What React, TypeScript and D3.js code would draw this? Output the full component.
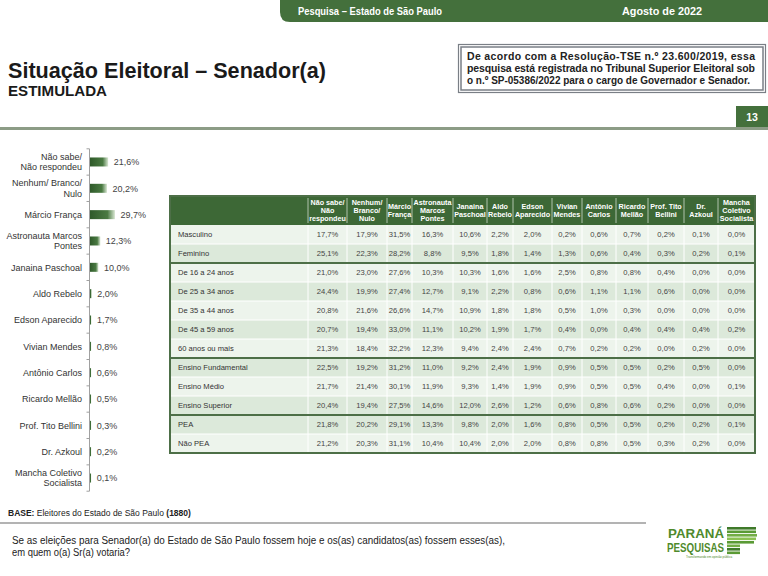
import React from "react";
import * as d3 from "d3";

// ---------- DATA ----------
const candidates = [
  "Não sabe/\nNão respondeu",
  "Nenhum/ Branco/\nNulo",
  "Márcio França",
  "Astronauta Marcos\nPontes",
  "Janaina Paschoal",
  "Aldo Rebelo",
  "Edson Aparecido",
  "Vivian Mendes",
  "Antônio Carlos",
  "Ricardo Mellão",
  "Prof. Tito Bellini",
  "Dr. Azkoul",
  "Mancha Coletivo\nSocialista",
];
const totals = [21.6, 20.2, 29.7, 12.3, 10.0, 2.0, 1.7, 0.8, 0.6, 0.5, 0.3, 0.2, 0.1];

const columnHeaders = [
  ["Não sabe/", "Não", "respondeu"],
  ["Nenhum/", "Branco/", "Nulo"],
  ["Márcio", "França"],
  ["Astronauta", "Marcos", "Pontes"],
  ["Janaina", "Paschoal"],
  ["Aldo", "Rebelo"],
  ["Edson", "Aparecido"],
  ["Vivian", "Mendes"],
  ["Antônio", "Carlos"],
  ["Ricardo", "Mellão"],
  ["Prof. Tito", "Bellini"],
  ["Dr.", "Azkoul"],
  ["Mancha", "Coletivo", "Socialista"],
];

const segments = [
  "Masculino",
  "Feminino",
  "De 16 a 24 anos",
  "De 25 a 34 anos",
  "De 35 a 44 anos",
  "De 45 a 59 anos",
  "60 anos ou mais",
  "Ensino Fundamental",
  "Ensino Médio",
  "Ensino Superior",
  "PEA",
  "Não PEA",
];
const masculino = [17.7, 17.9, 31.5, 16.3, 10.6, 2.2, 2.0, 0.2, 0.6, 0.7, 0.2, 0.1, 0.0];
const feminino = [25.1, 22.3, 28.2, 8.8, 9.5, 1.8, 1.4, 1.3, 0.6, 0.4, 0.3, 0.2, 0.1];
const de16a24 = [21.0, 23.0, 27.6, 10.3, 10.3, 1.6, 1.6, 2.5, 0.8, 0.8, 0.4, 0.0, 0.0];
const de25a34 = [24.4, 19.9, 27.4, 12.7, 9.1, 2.2, 0.8, 0.6, 1.1, 1.1, 0.6, 0.0, 0.0];
const de35a44 = [20.8, 21.6, 26.6, 14.7, 10.9, 1.8, 1.8, 0.5, 1.0, 0.3, 0.0, 0.0, 0.0];
const de45a59 = [20.7, 19.4, 33.0, 11.1, 10.2, 1.9, 1.7, 0.4, 0.0, 0.4, 0.4, 0.4, 0.2];
const mais60 = [21.3, 18.4, 32.2, 12.3, 9.4, 2.4, 2.4, 0.7, 0.2, 0.2, 0.0, 0.2, 0.0];
const fundamental = [22.5, 19.2, 31.2, 11.0, 9.2, 2.4, 1.9, 0.9, 0.5, 0.5, 0.2, 0.5, 0.0];
const medio = [21.7, 21.4, 30.1, 11.9, 9.3, 1.4, 1.9, 0.9, 0.5, 0.5, 0.4, 0.0, 0.1];
const superior = [20.4, 19.4, 27.5, 14.6, 12.0, 2.6, 1.2, 0.6, 0.8, 0.6, 0.2, 0.0, 0.0];
const pea = [21.8, 20.2, 29.1, 13.3, 9.8, 2.0, 1.6, 0.8, 0.5, 0.5, 0.2, 0.2, 0.1];
const naoPea = [21.2, 20.3, 31.1, 10.4, 10.4, 2.0, 2.0, 0.8, 0.8, 0.5, 0.3, 0.2, 0.0];
const tableValues = [masculino, feminino, de16a24, de25a34, de35a44, de45a59, mais60, fundamental, medio, superior, pea, naoPea];
const groupEnds = ["Feminino", "60 anos ou mais", "Ensino Superior"];

// ---------- STYLE / LAYOUT ----------
const GREEN = "#3d6836";
const NARROW = "'Liberation Sans Narrow','Arial Narrow','Liberation Sans',Arial,sans-serif";
const SANS = "'Liberation Sans',Arial,sans-serif";
const colEdges = [170, 308, 347, 387, 412, 453, 487, 513, 552, 582, 616, 648, 684, 718, 755];
const rowShade = [0, 1, 0, 1, 0, 1, 0, 1, 0, 1, 1, 0];

const locale = d3.formatLocale({ decimal: ",", thousands: ".", grouping: [3], currency: ["R$", ""] });
const fmt = (v: number) => locale.format(".1f")(v) + "%";

function BarChart() {
  const y = d3.scaleBand<string>().domain(candidates).range([148.8, 491.2]);
  const x = d3.scaleLinear().domain([0, 30]).range([90, 115.2]);
  const bh = 9;
  const ticks = candidates.map((c) => y(c)!).concat([y.range()[1]]);
  return (
    <g fontFamily={SANS}>
      <defs>
        <linearGradient id="barGrad" x1="0" x2="1" y1="0" y2="0">
          <stop offset="0" stopColor="#2f5a2a" />
          <stop offset="0.7" stopColor="#4a7a42" />
          <stop offset="1" stopColor="#d9e7d3" />
        </linearGradient>
      </defs>
      <line x1={89.5} x2={89.5} y1={y.range()[0]} y2={y.range()[1]} stroke="#a0a0a0" strokeWidth={1} />
      {ticks.map((t, i) => (
        <line key={i} x1={86.5} x2={89.5} y1={t} y2={t} stroke="#a0a0a0" strokeWidth={1} />
      ))}
      {candidates.map((c, i) => {
        const cy = y(c)! + y.bandwidth() / 2;
        const lines = c.split("\n");
        const w = Math.max(x(totals[i]) - x(0), 1.2);
        return (
          <g key={c}>
            {lines.map((ln, j) => (
              <text key={j} x={82} y={cy + 3.2 + (j - (lines.length - 1) / 2) * 10.5} fontSize={9} fill="#333" textAnchor="end">
                {ln}
              </text>
            ))}
            <rect x={x(0)} y={cy - bh / 2} width={w} height={bh} fill="url(#barGrad)" />
            <text x={x(0) + w + 5.5} y={cy + 3.2} fontSize={9} fill="#444">
              {fmt(totals[i])}
            </text>
          </g>
        );
      })}
    </g>
  );
}

function Table() {
  const top = 196;
  const headBottom = 225;
  const y = d3.scaleBand<string>().domain(segments).range([headBottom, 453]);
  const left = colEdges[0];
  const right = colEdges[colEdges.length - 1];
  return (
    <g fontFamily={SANS}>
      <rect x={left} y={top} width={right - left} height={headBottom - top} fill={GREEN} />
      {segments.map((s, i) => (
        <rect key={s} x={left} y={y(s)} width={right - left} height={y.bandwidth()} fill={rowShade[i] ? "#dce9da" : "#edf4ec"} />
      ))}
      {segments.map((s) => (
        <line key={"h" + s} x1={left} x2={right} y1={y(s)! + y.bandwidth()} y2={y(s)! + y.bandwidth()} stroke="#ffffff" strokeWidth={1} />
      ))}
      {colEdges.slice(1, -1).map((cx, i) => (
        <g key={"v" + i}>
          <line x1={cx} x2={cx} y1={top + 2} y2={headBottom - 2} stroke="#cfdccb" strokeWidth={0.8} />
          <line x1={cx} x2={cx} y1={headBottom} y2={453} stroke="#ffffff" strokeWidth={1} />
        </g>
      ))}
      {columnHeaders.map((lines, ci) => {
        const cx = (colEdges[ci + 1] + colEdges[ci + 2]) / 2;
        const mid = (top + headBottom) / 2;
        return lines.map((ln, j) => (
          <text key={ci + "-" + j} x={cx} y={mid + 2.6 + (j - (lines.length - 1) / 2) * 7.8} fontSize={7.2} fontWeight="bold" fill="#ffffff" textAnchor="middle">
            {ln}
          </text>
        ));
      })}
      {segments.map((s, ri) => {
        const cy = y(s)! + y.bandwidth() / 2 + 2.8;
        return (
          <g key={"r" + s}>
            <text x={178} y={cy} fontSize={7.6} fill="#333">
              {s}
            </text>
            {tableValues[ri].map((v, ci) => (
              <text key={ci} x={(colEdges[ci + 1] + colEdges[ci + 2]) / 2} y={cy} fontSize={7.6} fill="#444" textAnchor="middle">
                {fmt(v)}
              </text>
            ))}
          </g>
        );
      })}
      {groupEnds.map((g) => (
        <line key={"g" + g} x1={left} x2={right} y1={y(g)! + y.bandwidth()} y2={y(g)! + y.bandwidth()} stroke="#4d6f47" strokeWidth={2} />
      ))}
      <rect x={left} y={top} width={right - left} height={453 - top} fill="none" stroke="#4d6f47" strokeWidth={2} />
    </g>
  );
}

function Logo() {
  const stripes = [
    { y: 527, x2: 756, c: "#3f7a2a" },
    { y: 530.5, x2: 756, c: "#5a9a35" },
    { y: 534, x2: 757, c: "#73ad45" },
    { y: 537.5, x2: 756, c: "#8cc152" },
    { y: 541, x2: 754, c: "#5a9a35" },
    { y: 544.5, x2: 740, c: "#73ad45" },
    { y: 548, x2: 740, c: "#3f7a2a" },
    { y: 551.5, x2: 740, c: "#5a9a35" },
  ];
  return (
    <g>
      <text x={724} y={538} fontSize={13.5} fontWeight="bold" fill="#4f8a2c" textAnchor="end" fontFamily={NARROW} textLength={56} lengthAdjust="spacingAndGlyphs">
        PARANÁ
      </text>
      <text x={724} y={552} fontSize={13.5} fontWeight="bold" fill="#4f8a2c" textAnchor="end" fontFamily={NARROW} textLength={57} lengthAdjust="spacingAndGlyphs">
        PESQUISAS
      </text>
      <text x={686} y={558} fontSize={3} fill="#4f8a2c" fontFamily={SANS}>
        Transformando em opinião pública
      </text>
      {stripes.map((s, i) => (
        <rect key={i} x={727} y={s.y} width={s.x2 - 727} height={2.6} fill={s.c} />
      ))}
    </g>
  );
}

export default function App() {
  return (
    <svg width={768} height={576} style={{ position: "absolute", left: 0, top: 0, background: "#ffffff" }}>
      <rect width={768} height={576} fill="#ffffff" />
      {/* top bar */}
      <path d="M280,0 H768 V22 H290 Q280,22 280,12 Z" fill="#44703c" />
      <text x={298} y={15} fontSize={11.5} fontWeight="bold" fill="#ffffff" fontFamily={NARROW} textLength={144} lengthAdjust="spacingAndGlyphs">
        Pesquisa – Estado de São Paulo
      </text>
      <text x={622} y={15} fontSize={11.5} fontWeight="bold" fill="#ffffff" fontFamily={NARROW} textLength={80} lengthAdjust="spacingAndGlyphs">
        Agosto de 2022
      </text>

      {/* title */}
      <text x={8} y={78} fontSize={22} fontWeight="bold" fill="#1a1a1a" fontFamily={NARROW} textLength={318} lengthAdjust="spacingAndGlyphs">
        Situação Eleitoral – Senador(a)
      </text>
      <text x={8} y={96} fontSize={15} fontWeight="bold" fill="#1a1a1a" fontFamily={NARROW} textLength={99} lengthAdjust="spacingAndGlyphs">
        ESTIMULADA
      </text>

      {/* legal box */}
      <rect x={458.5} y={44.5} width={307} height={48} fill="#ffffff" stroke="#7a7f86" strokeWidth={1.2} />
      <rect x={461} y={47} width={302} height={43} fill="none" stroke="#7a7f86" strokeWidth={1.5} />
      <g fontFamily={NARROW} fontSize={10.5} fontWeight="bold" fill="#222">
        <text x={467} y={60} textLength={288} lengthAdjust="spacing">De acordo com a Resolução-TSE n.º 23.600/2019, essa</text>
        <text x={467} y={72} textLength={288} lengthAdjust="spacing">pesquisa está registrada no Tribunal Superior Eleitoral sob</text>
        <text x={467} y={84} textLength={283} lengthAdjust="spacingAndGlyphs">o n.º SP-05386/2022 para o cargo de Governador e Senador.</text>
      </g>

      {/* page number + separator */}
      <rect x={736} y={106} width={32} height={21} fill="#44703c" />
      <text x={752} y={121} fontSize={10.5} fontWeight="bold" fill="#ffffff" textAnchor="middle" fontFamily={NARROW}>
        13
      </text>
      <rect x={0} y={127} width={768} height={3} fill="#8c9c86" />

      <BarChart />
      <Table />

      {/* base */}
      <text x={8} y={516} fontSize={8.5} fill="#222" fontFamily={SANS}>
        <tspan fontWeight="bold">BASE:</tspan>
        <tspan> Eleitores do Estado de São Paulo </tspan>
        <tspan fontWeight="bold">(1880)</tspan>
      </text>
      <line x1={0} x2={646} y1={523} y2={523} stroke="#9a9a9a" strokeWidth={1.5} />
      <text x={12} y={544} fontSize={10} fill="#222" fontFamily={SANS} textLength={493} lengthAdjust="spacingAndGlyphs">
        Se as eleições para Senador(a) do Estado de São Paulo fossem hoje e os(as) candidatos(as) fossem esses(as),
      </text>
      <text x={12} y={556} fontSize={10} fill="#222" fontFamily={SANS} textLength={118} lengthAdjust="spacingAndGlyphs">
        em quem o(a) Sr(a) votaria?
      </text>
      <Logo />
    </svg>
  );
}
